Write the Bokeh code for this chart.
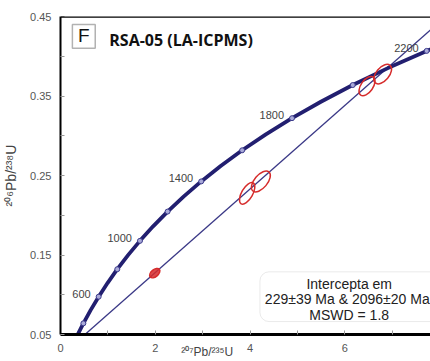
from bokeh.plotting import figure
from bokeh.models import FixedTicker, Span, Slope, BoxAnnotation, Label, ColumnDataSource, PrintfTickFormatter
from bokeh.embed import file_html
from bokeh.resources import INLINE
from bokeh.core.properties import value

# Concordia reference points (age in Ma, 207Pb/235U, 206Pb/238U)
ages = [300, 400, 500, 600, 700, 800, 900, 1000, 1100, 1200, 1300, 1400,
        1500, 1600, 1700, 1800, 1900, 2000, 2100, 2200, 2300]
conc_x = [0.343738, 0.482812, 0.636280, 0.805631, 0.992510, 1.198730, 1.426295,
          1.677408, 1.954517, 2.260302, 2.597739, 2.970093, 3.380989, 3.834413,
          4.334770, 4.886899, 5.496182, 6.168529, 6.910458, 7.729160, 8.632612]
conc_y = [0.047637, 0.064015, 0.080650, 0.097544, 0.114703, 0.132129, 0.149828,
          0.167804, 0.186061, 0.204603, 0.223435, 0.242562, 0.261987, 0.281716,
          0.301754, 0.322105, 0.342774, 0.363766, 0.385086, 0.406740, 0.428733]
marker_ages = [400, 600, 800, 1000, 1200, 1400, 1600, 1800, 2000, 2200]
label_ages = [600, 1000, 1400, 1800, 2200]

# Discordia intercepts (229 Ma and 2096 Ma)
lower_x, lower_y = 0.252988, 0.036162
upper_x, upper_y = 6.879358, 0.384227

# Analyses (error ellipses)
spot_x = [1.99, 3.94, 4.23, 6.47, 6.80]
spot_y = [0.1272, 0.2275, 0.2425, 0.3625, 0.3775]
spot_major = [12, 24, 25, 22, 23]
spot_minor = [7, 11, 13, 12, 13]
spot_angle = [40, 60, 50, 55, 50]
spot_filled = [1, 0, 0, 0, 0]

x_ticks = [0, 2, 4, 6]
x_minor = [1, 3, 5, 7]
y_ticks = [0.05, 0.15, 0.25, 0.35, 0.45]
y_minor = [0.10, 0.20, 0.30, 0.40]

NAVY = "#221f70"
RED = "#d62c2c"

p = figure(width=430, height=361, x_range=(0, 7.81), y_range=(0.05, 0.45),
           output_backend="svg", toolbar_location=None,
           min_border_left=57, min_border_right=0, min_border_top=16, min_border_bottom=26)
p.outline_line_color = None
p.xgrid.visible = False
p.ygrid.visible = False
p.background_fill_color = "white"
p.border_fill_color = "white"

for ax in (p.xaxis[0], p.yaxis[0]):
    ax.axis_line_color = "black"
    ax.major_tick_in = 4
    ax.major_tick_out = 0
    ax.minor_tick_in = 4
    ax.minor_tick_out = 0
    ax.major_tick_line_color = "#999999"
    ax.minor_tick_line_color = "#999999"
    ax.major_label_text_font = "Liberation Sans"
    ax.major_label_text_font_size = "11px"
    ax.major_label_text_color = "#555555"
    ax.major_label_standoff = 9
    ax.axis_label_text_font = "Liberation Sans"
    ax.axis_label_text_font_style = "normal"
    ax.axis_label_text_color = "#444444"

p.xaxis.axis_line_width = 3
p.yaxis.axis_line_width = 2
p.xaxis.ticker = FixedTicker(ticks=x_ticks, minor_ticks=x_minor)
p.yaxis.ticker = FixedTicker(ticks=y_ticks, minor_ticks=y_minor)
p.xaxis.formatter = PrintfTickFormatter(format="%d")
p.yaxis.formatter = PrintfTickFormatter(format="%.2f")
p.yaxis.axis_label = "\u00b2\u2070\u2076Pb/\u00b2\u00b3\u2078U"
p.yaxis.axis_label_text_font_size = "14px"
p.yaxis.axis_label_standoff = 8
# trailing no-break spaces shift the visible title left of the "4" tick label
p.xaxis.axis_label = "\u00b2\u2070\u2077Pb/\u00b2\u00b3\u2075U" + "\u00a0" * 23
p.xaxis.axis_label_text_font_size = "12px"
p.xaxis.axis_label_standoff = -10

p.add_layout(Span(location=0.45, dimension="width", line_color="black", line_width=2.5))

# Discordia
grad = (upper_y - lower_y) / (upper_x - lower_x)
p.add_layout(Slope(gradient=grad, y_intercept=lower_y - grad * lower_x,
                   line_color="#3a3886", line_width=1.3, level="underlay"))

# Concordia
p.line(conc_x, conc_y, line_color=NAVY, line_width=3.8)
mi = [ages.index(a) for a in marker_ages]
p.scatter([conc_x[i] for i in mi], [conc_y[i] for i in mi], marker="circle", size=5,
          fill_color="#a9a9d8", line_color="#3c3c8c", line_width=1)
li = [ages.index(a) for a in label_ages]
p.text([conc_x[i] for i in li], [conc_y[i] for i in li], text=[str(a) for a in label_ages],
       text_align="right", text_baseline="middle", x_offset=-8, y_offset=-3,
       text_font=value("Liberation Sans"), text_font_size="11px", text_color="#444444")

# Ellipses
src = ColumnDataSource(dict(x=spot_x, y=spot_y, w=spot_major, h=spot_minor, a=spot_angle,
                            fa=[0.85 * f for f in spot_filled]))
p.ellipse(x="x", y="y", width="w", height="h", angle="a", angle_units="deg",
          width_units="screen", height_units="screen", source=src,
          fill_color=RED, fill_alpha="fa", line_color=RED, line_width=1.5)

# Panel label and title
p.add_layout(BoxAnnotation(left=0.251, right=0.733, top=0.44, bottom=0.41,
                           fill_alpha=0, line_color="black", line_width=1.5))
p.add_layout(Label(x=0.492, y=0.4255, text="F", text_align="center", text_baseline="middle",
                   text_font="Liberation Sans", text_font_size="19px", text_color="#111111"))
p.add_layout(Label(x=1.03, y=0.42, text="RSA-05 (LA-ICPMS)", text_align="left",
                   text_baseline="middle", text_font="Open Sans", text_font_style="bold",
                   text_font_size="16px", text_color="#111111"))

# Result box
p.add_layout(BoxAnnotation(left=4.21, right=8.1, top=0.1288, bottom=0.0663,
                           fill_color="white", fill_alpha=1, line_color="#bbbbbb",
                           line_width=1, border_radius=9))
for yy, tt in [(0.1138, "Intercepta em"), (0.0950, "229\u00b139 Ma  & 2096\u00b120 Ma"),
               (0.0750, "MSWD = 1.8")]:
    p.add_layout(Label(x=6.094, y=yy, text=tt, text_align="center", text_baseline="middle",
                       text_font="Liberation Sans", text_font_size="14px", text_color="#222222"))

open("out.html", "w").write(file_html(p, INLINE))
